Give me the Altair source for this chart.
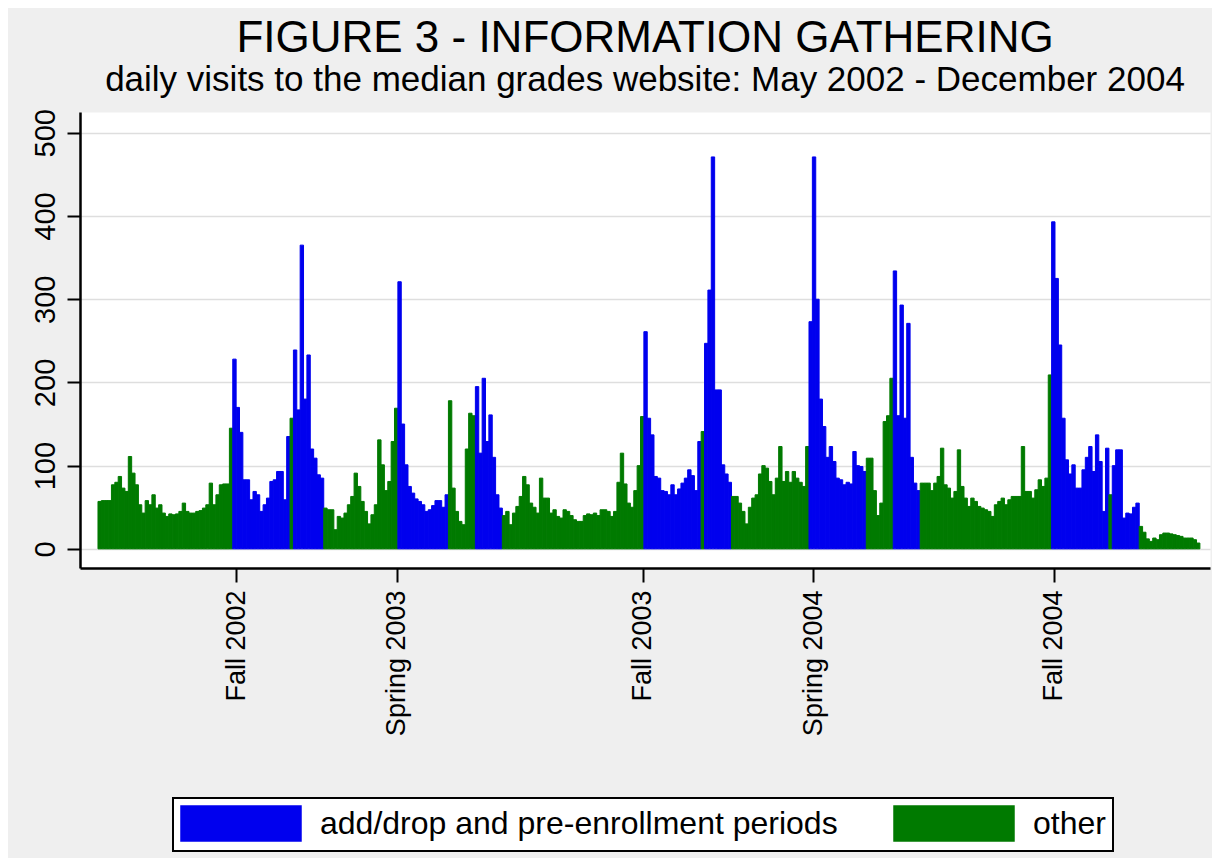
import altair as alt
import pandas as pd

# daily visits in 3-day steps (bin index * 3 = day since early May 2002)
visits = [
    57, 58, 58, 58, 77, 80, 87, 73, 69, 111, 91, 77, 53, 43, 58, 53, 65, 49, 53, 43,
    39, 42, 41, 42, 45, 55, 45, 43, 43, 45, 46, 49, 53, 79, 53, 65, 77, 78, 78, 145,
    228, 170, 140, 83, 83, 59, 69, 65, 45, 53, 61, 81, 83, 93, 93, 59, 135, 157, 239, 167,
    365, 180, 233, 120, 109, 89, 85, 49, 47, 47, 23, 39, 37, 43, 53, 63, 91, 75, 57, 45,
    30, 41, 53, 131, 101, 70, 81, 129, 169, 321, 150, 101, 75, 67, 60, 57, 53, 45, 47, 52,
    58, 58, 50, 65, 178, 73, 45, 33, 29, 120, 163, 160, 195, 115, 205, 129, 161, 110, 65, 49,
    40, 45, 29, 43, 51, 63, 87, 77, 55, 50, 43, 85, 61, 61, 43, 47, 39, 37, 47, 45,
    40, 35, 33, 33, 40, 42, 41, 43, 40, 47, 47, 45, 39, 45, 80, 115, 78, 55, 50, 70,
    100, 159, 261, 157, 137, 87, 85, 70, 69, 65, 77, 65, 72, 79, 85, 95, 88, 70, 129, 141,
    247, 311, 471, 191, 191, 101, 90, 80, 63, 63, 55, 45, 30, 50, 61, 65, 90, 100, 97, 81,
    65, 85, 123, 81, 93, 80, 93, 85, 80, 75, 123, 273, 471, 300, 180, 147, 110, 123, 105, 85,
    83, 77, 80, 78, 117, 100, 99, 93, 109, 109, 70, 40, 55, 153, 160, 205, 334, 160, 293, 157,
    271, 110, 79, 70, 79, 79, 79, 70, 79, 87, 121, 77, 73, 61, 69, 119, 75, 61, 51, 61,
    57, 51, 49, 47, 45, 39, 53, 57, 61, 53, 59, 63, 63, 63, 123, 69, 69, 61, 71, 83,
    75, 85, 209, 393, 325, 245, 157, 107, 90, 101, 73, 73, 95, 110, 123, 93, 137, 105, 45, 121,
    65, 100, 119, 119, 37, 43, 42, 50, 55, 27, 20, 12, 9, 13, 11, 17, 19, 19, 18, 17,
    16, 15, 13, 13, 13, 11, 7,
]

# bins (inclusive ranges) that fall in add/drop and pre-enrollment periods
period_bins = [(40, 56), (58, 66), (89, 103), (112, 119), (162, 178),
               (180, 187), (211, 227), (236, 243), (283, 299), (301, 308)]

BIN_DAYS = 3
tick_days = [123, 266, 485, 637, 851]
tick_labels = ["Fall 2002", "Spring 2003", "Fall 2003", "Spring 2004", "Fall 2004"]
y_ticks = [0, 100, 200, 300, 400, 500]
PERIOD = "add/drop and pre-enrollment periods"
OTHER = "other"
colors = ["#0000ee", "#007a00"]

rows = []
for i, v in enumerate(visits):
    in_period = any(a <= i <= b for a, b in period_bins)
    rows.append({"start": i * BIN_DAYS, "end": (i + 1) * BIN_DAYS,
                 "visits": v, "period": PERIOD if in_period else OTHER})
df = pd.DataFrame(rows)

label_expr = " : ".join(f"datum.value == {d} ? '{l}'" for d, l in zip(tick_days, tick_labels)) + " : ''"

FONT = "Liberation Sans"
color_scale = alt.Scale(domain=[PERIOD, OTHER], range=colors)

chart = alt.Chart(df).mark_rect(strokeWidth=1.0).encode(
    x=alt.X("start:Q",
            scale=alt.Scale(domain=[-16, 990], nice=False, zero=False),
            axis=alt.Axis(values=tick_days, labelExpr=label_expr, labelAngle=270,
                          title=None, grid=False, tickSize=14, tickWidth=2,
                          labelFontSize=27, labelPadding=8, labelLimit=400,
                          domainWidth=2.5)),
    x2="end:Q",
    y=alt.Y("visits:Q",
            scale=alt.Scale(domain=[-23, 525], nice=False, zero=False),
            axis=alt.Axis(values=y_ticks, labelAngle=270, title=None, grid=True,
                          tickSize=13, tickWidth=2, labelFontSize=29,
                          labelPadding=13, labelBaseline="alphabetic", labelAlign="center",
                          domainWidth=2.5, gridColor="#dedede", gridWidth=1.6)),
    y2=alt.datum(0),
    color=alt.Color("period:N", scale=color_scale,
                    legend=alt.Legend(orient="none", legendX=93, legendY=686,
                                      direction="horizontal", title=None,
                                      fillColor="white", strokeColor="black", padding=7,
                                      symbolType="M-1,-1H5.857V1H-1Z", symbolSize=1225,
                                      symbolStrokeWidth=1.5, symbolOpacity=1,
                                      labelFontSize=32, labelFont=FONT, labelColor="black",
                                      labelOffset=103, labelLimit=900, columnPadding=53)),
    stroke=alt.Stroke("period:N", scale=color_scale, legend=None),
).properties(
    width=1130,
    height=456,
    padding={"left": 72, "top": 104, "right": 2, "bottom": 290},
    autosize=alt.AutoSizeParams(type="none"),
    title=alt.Title(text="FIGURE 3 - INFORMATION GATHERING",
                    subtitle="daily visits to the median grades website: May 2002 - December 2004",
                    fontSize=44, subtitleFontSize=35, font=FONT, subtitleFont=FONT,
                    fontWeight="normal", subtitleFontWeight="normal",
                    color="black", subtitleColor="black",
                    anchor="middle", frame="group", offset=11, subtitlePadding=2),
).configure(
    background="#efefef",
).configure_view(
    fill="white", stroke="transparent",
).configure_axis(
    labelFont=FONT, labelColor="black", domainColor="black", tickColor="black",
).configure_legend(
    strokeWidth=2,
)

chart.save("out.html", embed_options={"renderer": "svg", "actions": False})
